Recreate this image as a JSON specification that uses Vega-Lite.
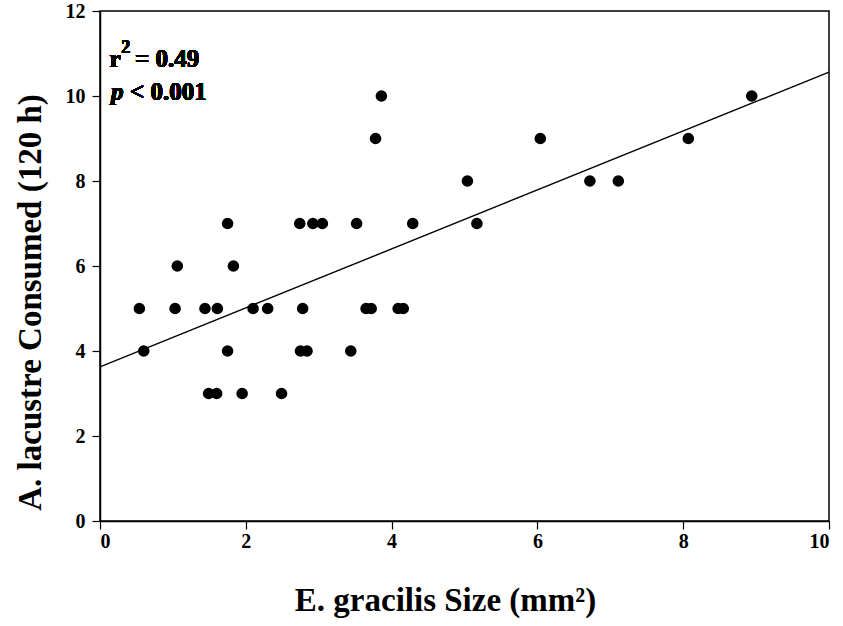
{
  "$schema": "https://vega.github.io/schema/vega-lite/v6.json",
  "width": 729,
  "height": 510,
  "autosize": {"type": "none"},
  "padding": {"left": 100, "top": 11, "right": 14, "bottom": 105},
  "background": "white",
  "config": {
    "font": "Liberation Serif",
    "view": {"stroke": "black", "strokeWidth": 1.5},
    "axis": {
      "grid": false,
      "domainColor": "black",
      "domainWidth": 1.5,
      "tickColor": "black",
      "tickWidth": 1.2,
      "tickSize": 8,
      "labelFont": "Liberation Serif",
      "labelFontWeight": "bold",
      "labelColor": "black",
      "titleFont": "Liberation Serif",
      "titleFontWeight": "bold",
      "titleFontSize": 33,
      "titleColor": "black"
    },
    "axisX": {"labelFontSize": 20},
    "axisY": {"labelFontSize": 20}
  },
  "data": {
    "values": [
      {"size": 3.86, "consumed": 10}, {"size": 8.94, "consumed": 10},
      {"size": 3.78, "consumed": 9}, {"size": 6.04, "consumed": 9}, {"size": 8.07, "consumed": 9},
      {"size": 5.04, "consumed": 8}, {"size": 6.72, "consumed": 8}, {"size": 7.11, "consumed": 8},
      {"size": 1.75, "consumed": 7}, {"size": 2.74, "consumed": 7}, {"size": 2.92, "consumed": 7},
      {"size": 3.05, "consumed": 7}, {"size": 3.52, "consumed": 7}, {"size": 4.29, "consumed": 7},
      {"size": 5.17, "consumed": 7},
      {"size": 1.06, "consumed": 6}, {"size": 1.83, "consumed": 6},
      {"size": 0.54, "consumed": 5}, {"size": 1.03, "consumed": 5}, {"size": 1.44, "consumed": 5},
      {"size": 1.61, "consumed": 5}, {"size": 2.10, "consumed": 5}, {"size": 2.30, "consumed": 5},
      {"size": 2.78, "consumed": 5}, {"size": 3.65, "consumed": 5}, {"size": 3.72, "consumed": 5},
      {"size": 4.09, "consumed": 5}, {"size": 4.16, "consumed": 5},
      {"size": 0.60, "consumed": 4}, {"size": 1.75, "consumed": 4}, {"size": 2.75, "consumed": 4},
      {"size": 2.84, "consumed": 4}, {"size": 3.44, "consumed": 4},
      {"size": 1.49, "consumed": 3}, {"size": 1.60, "consumed": 3}, {"size": 1.95, "consumed": 3},
      {"size": 2.49, "consumed": 3}
    ]
  },
  "encoding": {
    "x": {
      "field": "size", "type": "quantitative",
      "scale": {"domain": [0, 10], "nice": false, "zero": true},
      "axis": {"values": [0, 2, 4, 6, 8, 10], "labelFontSize": 20, "title": "E. gracilis Size (mm²)", "titlePadding": 33, "labelPadding": 2, "titleX": 345, "titleAlign": "center"}
    },
    "y": {
      "field": "consumed", "type": "quantitative",
      "scale": {"domain": [0, 12], "nice": false},
      "axis": {"values": [0, 2, 4, 6, 8, 10, 12], "labelFontSize": 20, "title": "A. lacustre Consumed (120 h)", "titlePadding": 18, "labelPadding": 7, "titleY": 291}
    }
  },
  "layer": [
    {
      "mark": {"type": "point", "filled": true, "color": "black", "opacity": 1, "size": 135}
    },
    {
      "transform": [{"regression": "consumed", "on": "size", "extent": [0, 10]}],
      "mark": {"type": "line", "color": "black", "strokeWidth": 1.4}
    },
    {
      "mark": {"type": "text", "text": "r", "align": "left", "baseline": "middle", "fontSize": 25, "fontWeight": "bold", "font": "Liberation Serif", "color": "black"},
      "encoding": {"x": {"datum": 0.13}, "y": {"datum": 10.88}}
    },
    {
      "mark": {"type": "text", "text": "2", "align": "left", "baseline": "middle", "fontSize": 18, "fontWeight": "bold", "font": "Liberation Serif", "color": "black"},
      "encoding": {"x": {"datum": 0.29}, "y": {"datum": 11.12}}
    },
    {
      "mark": {"type": "text", "text": "= 0.49", "align": "left", "baseline": "middle", "fontSize": 25, "fontWeight": "bold", "font": "Liberation Serif", "color": "black"},
      "encoding": {"x": {"datum": 0.48}, "y": {"datum": 10.88}}
    },
    {
      "mark": {"type": "text", "text": "p", "align": "left", "baseline": "middle", "fontSize": 25, "fontWeight": "bold", "fontStyle": "italic", "font": "Liberation Serif", "color": "black"},
      "encoding": {"x": {"datum": 0.15}, "y": {"datum": 10.1}}
    },
    {
      "mark": {"type": "text", "text": "< 0.001", "align": "left", "baseline": "middle", "fontSize": 25, "fontWeight": "bold", "font": "Liberation Serif", "color": "black"},
      "encoding": {"x": {"datum": 0.41}, "y": {"datum": 10.1}}
    }
  ]
}
